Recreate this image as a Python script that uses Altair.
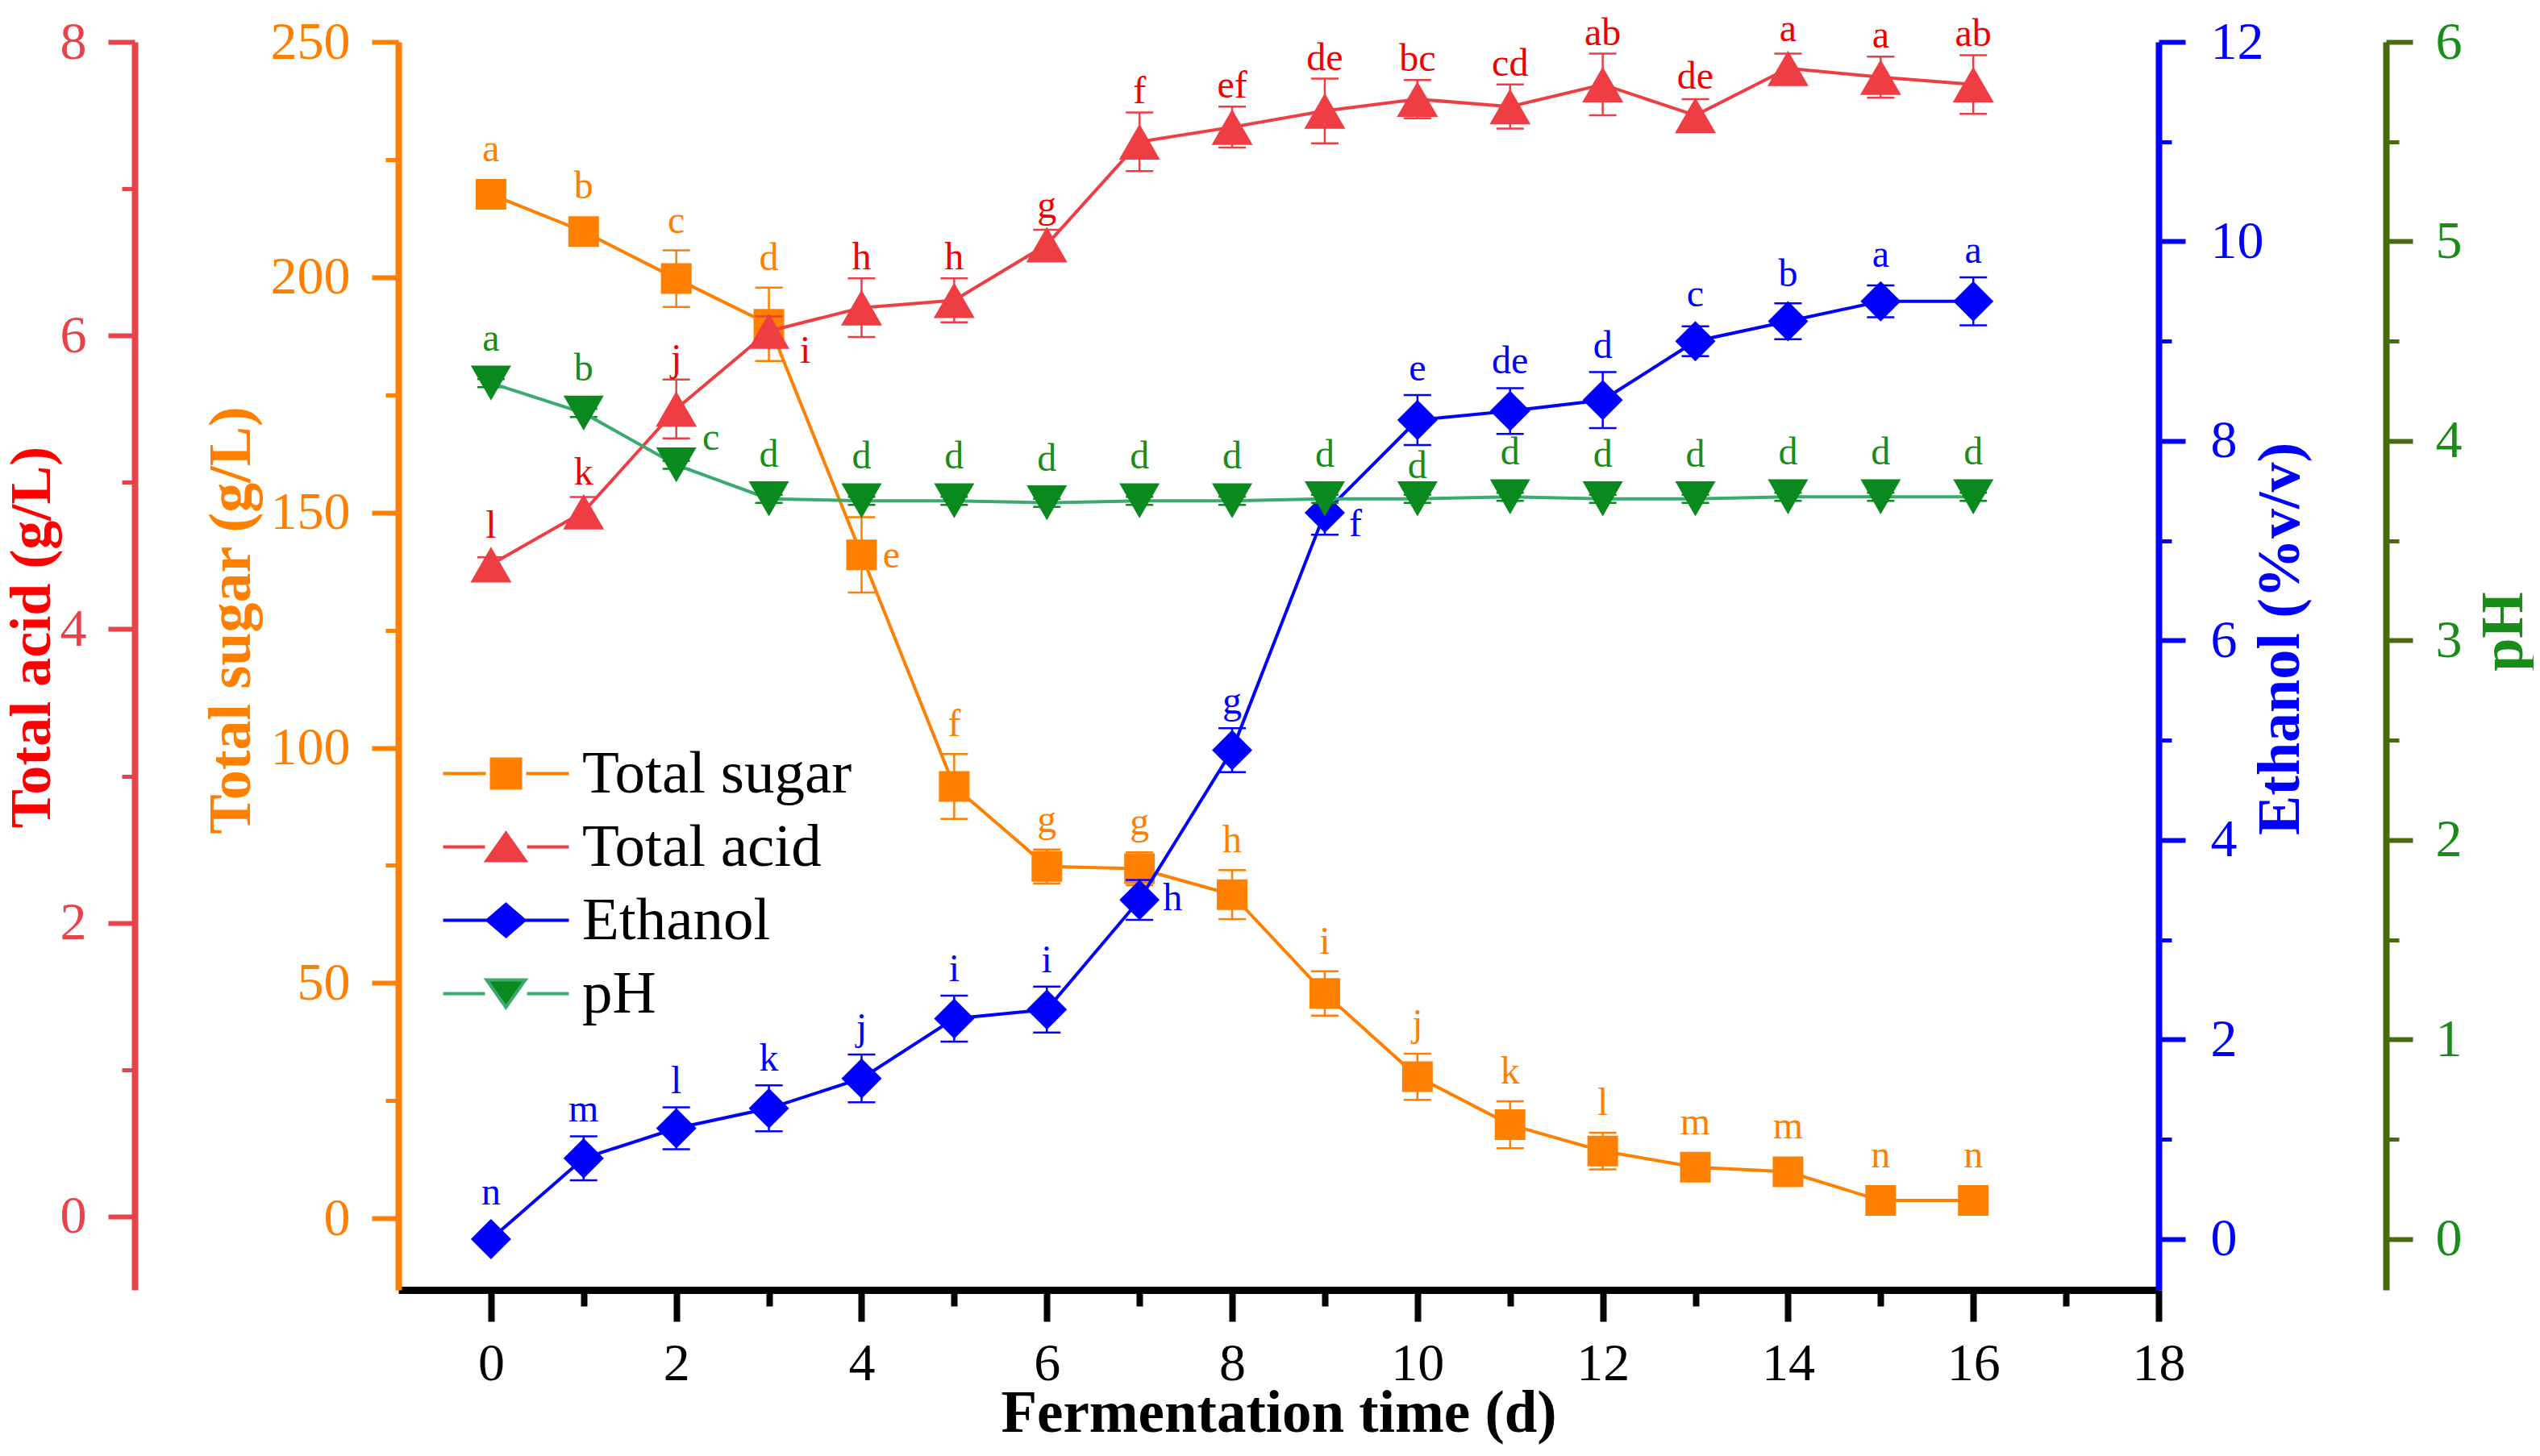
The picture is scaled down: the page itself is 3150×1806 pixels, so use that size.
import altair as alt
import pandas as pd

# ---------------- data ----------------
days = list(range(17))

sugar = [217.6, 209.7, 199.7, 190.0, 141.0, 91.8, 74.8, 74.3, 68.8, 47.8, 30.1, 19.9, 14.3, 10.9, 9.9, 3.8, 3.8]
sugar_err = [1.0, 1.0, 6.0, 7.8, 8.0, 6.9, 3.6, 3.5, 5.2, 4.7, 4.9, 5.0, 3.9, 1.0, 1.0, 0.5, 0.5]
sugar_letters = ["a", "b", "c", "d", "e", "f", "g", "g", "h", "i", "j", "k", "l", "m", "m", "n", "n"]

acid = [4.44, 4.80, 5.50, 6.03, 6.19, 6.24, 6.62, 7.32, 7.42, 7.53, 7.61, 7.56, 7.71, 7.50, 7.82, 7.76, 7.71]
acid_err = [0.05, 0.10, 0.20, 0.10, 0.20, 0.15, 0.10, 0.20, 0.14, 0.22, 0.13, 0.15, 0.21, 0.11, 0.10, 0.14, 0.20]
acid_letters = ["l", "k", "j", "i", "h", "h", "g", "f", "ef", "de", "bc", "cd", "ab", "de", "a", "a", "ab"]

ethanol = [0.0, 0.81, 1.11, 1.31, 1.61, 2.21, 2.30, 3.40, 4.90, 7.28, 8.21, 8.30, 8.41, 9.00, 9.20, 9.40, 9.40]
ethanol_err = [0.02, 0.22, 0.21, 0.23, 0.24, 0.23, 0.23, 0.20, 0.22, 0.22, 0.25, 0.23, 0.28, 0.15, 0.18, 0.16, 0.24]
ethanol_letters = ["n", "m", "l", "k", "j", "i", "i", "h", "g", "f", "e", "de", "d", "c", "b", "a", "a"]

ph = [4.29, 4.14, 3.88, 3.71, 3.70, 3.70, 3.69, 3.70, 3.70, 3.71, 3.71, 3.72, 3.71, 3.71, 3.72, 3.72, 3.72]
ph_err = [0.02] * 17
ph_letters = ["a", "b", "c"] + ["d"] * 14

series_names = ["Total sugar", "Total acid", "Ethanol", "pH"]

x_ticks_major = [0, 2, 4, 6, 8, 10, 12, 14, 16, 18]
x_ticks_minor = [1, 3, 5, 7, 9, 11, 13, 15, 17]
sugar_ticks_major = [0, 50, 100, 150, 200, 250]
sugar_ticks_minor = [25, 75, 125, 175, 225]
acid_ticks_major = [0, 2, 4, 6, 8]
acid_ticks_minor = [1, 3, 5, 7]
ethanol_ticks_major = [0, 2, 4, 6, 8, 10, 12]
ethanol_ticks_minor = [1, 3, 5, 7, 9, 11]
ph_ticks_major = [0, 1, 2, 3, 4, 5, 6]
ph_ticks_minor = [0.5, 1.5, 2.5, 3.5, 4.5, 5.5]

# ---------------- layout / style ----------------
W, H = 2183, 1548
X_DOMAIN = [-1, 18]
SUGAR_DOMAIN = [-15.2, 250]
ACID_DOMAIN = [-0.5, 8]
ETHANOL_DOMAIN = [-0.51, 12]
PH_DOMAIN = [-0.255, 6]
FONT = "Liberation Serif"
LABEL_SIZE = 48
PPX = W / (X_DOMAIN[1] - X_DOMAIN[0])

ORANGE = "#FF7F00"
RED = "#EE3E44"
RED_AXIS = "#E8424A"
RED_TEXT = "#F00000"
BLUE = "#0000FF"
GREEN_MARK = "#0A8A1E"
GREEN_LINE = "#3AAA6E"
GREEN_AXIS = "#4A6A10"
GREEN_TEXT = "#1A8C1A"


def ppu(domain):
    return H / (domain[1] - domain[0])


def frame(values, errs, letters, domain, half_px, gap, specials):
    k = ppu(domain)
    rows = []
    for d, v, e, t in zip(days, values, errs, letters):
        if d in specials:
            dx, dyc = specials[d]
            up = -(dyc + 0.22 * LABEL_SIZE)
        else:
            dx = 0
            up = max(e * k, half_px) + gap
        rows.append(dict(day=d, value=v, lo=v - e, hi=v + e, label=t,
                         lab_x=d + dx / PPX, lab_y=v + up / k))
    return pd.DataFrame(rows)


xs = alt.Scale(domain=X_DOMAIN, nice=False, zero=False)

x_major_axis = alt.Axis(
    orient="bottom", values=x_ticks_major, grid=False, tickSize=39, tickWidth=8,
    tickColor="black", domainColor="black", domainWidth=9, labelColor="black",
    labelFont=FONT, labelFontSize=66, labelPadding=20, labelFlush=False,
    title="Fermentation time (d)", titleFont=FONT, titleFontSize=73,
    titleFontWeight="bold", titleColor="black", titleY=175,
    titleBaseline="alphabetic")
x_minor_axis = alt.Axis(
    orient="bottom", values=x_ticks_minor, grid=False, tickSize=20, tickWidth=8,
    tickColor="black", domain=False, labels=False, title=None)


def y_axes(orient, offset, major, minor, color, label_color, title, title_color,
           title_x, title_y, label_pad, title_size=74):
    maj = alt.Axis(
        orient=orient, offset=offset, values=major, grid=False, tickSize=33,
        tickWidth=6, tickColor=color, domainColor=color, domainWidth=8,
        labelColor=label_color, labelFont=FONT, labelFontSize=66,
        labelPadding=label_pad, title=title, titleFont=FONT,
        titleFontSize=title_size, titleFontWeight="bold", titleColor=title_color,
        titleAngle=270, titleX=title_x, titleY=title_y, titleAlign="center",
        titleBaseline="middle")
    mnr = alt.Axis(
        orient=orient, offset=offset, values=minor, grid=False, tickSize=16,
        tickWidth=5, tickColor=color, domain=False, labels=False, title=None)
    return maj, mnr


def group(df, color, line_color, text_color, shape, size, domain, axes, with_x=False):
    ys = alt.Scale(domain=domain, nice=False, zero=False)
    maj, mnr = axes
    base = alt.Chart(df)
    xa_major = x_major_axis if with_x else None
    xa_minor = x_minor_axis if with_x else None
    err = base.mark_rule(color=color, strokeWidth=2.5).encode(
        x=alt.X("day:Q", scale=xs, axis=xa_minor),
        y=alt.Y("lo:Q", scale=ys, axis=mnr),
        y2="hi:Q")
    cap_lo = base.mark_tick(orient="horizontal", size=34, thickness=2.5,
                            color=color, opacity=1).encode(
        x=alt.X("day:Q", scale=xs, axis=None),
        y=alt.Y("lo:Q", scale=ys, axis=None))
    cap_hi = base.mark_tick(orient="horizontal", size=34, thickness=2.5,
                            color=color, opacity=1).encode(
        x=alt.X("day:Q", scale=xs, axis=None),
        y=alt.Y("hi:Q", scale=ys, axis=None))
    line = base.mark_line(color=line_color, strokeWidth=4).encode(
        x=alt.X("day:Q", scale=xs, axis=xa_major),
        y=alt.Y("value:Q", scale=ys, axis=maj))
    pts = base.mark_point(filled=True, shape=shape, size=size, color=color,
                          opacity=1).encode(
        x=alt.X("day:Q", scale=xs, axis=None),
        y=alt.Y("value:Q", scale=ys, axis=None))
    txt = base.mark_text(font=FONT, fontSize=LABEL_SIZE, color=text_color,
                         align="center", baseline="alphabetic").encode(
        x=alt.X("lab_x:Q", scale=xs, axis=None),
        y=alt.Y("lab_y:Q", scale=ys, axis=None),
        text="label:N")
    lay = alt.layer(err, cap_lo, cap_hi, line, pts, txt)
    if with_x:
        return lay.resolve_axis(x="independent", y="independent")
    return lay.resolve_axis(y="independent")


df_sugar = frame(sugar, sugar_err, sugar_letters, SUGAR_DOMAIN, 19, 22, {4: (37, 5)})
df_acid = frame(acid, acid_err, acid_letters, ACID_DOMAIN, 22.5, 11, {3: (45, 29)})
df_eth = frame(ethanol, ethanol_err, ethanol_letters, ETHANOL_DOMAIN, 25, 18,
               {7: (41, 2), 9: (38, 18)})
df_ph = frame(ph, ph_err, ph_letters, PH_DOMAIN, 22, 18, {2: (43, -29), 10: (0, -36)})

g_sugar = group(df_sugar, ORANGE, ORANGE, ORANGE, "square", 1444, SUGAR_DOMAIN,
                y_axes("left", 0, sugar_ticks_major, sugar_ticks_minor, ORANGE,
                       ORANGE, "Total sugar (g/L)", ORANGE, -207, 717, 27),
                with_x=True)
g_acid = group(df_acid, RED, RED, RED_TEXT, "triangle-up", 2600, ACID_DOMAIN,
               y_axes("left", 327, acid_ticks_major, acid_ticks_minor, RED_AXIS,
                      RED_AXIS, "Total acid (g/L)", "#FF0000", -128, 738, 27,
                      title_size=72))
g_eth = group(df_eth, BLUE, BLUE, BLUE, "diamond", 2500, ETHANOL_DOMAIN,
              y_axes("right", 0, ethanol_ticks_major, ethanol_ticks_minor, BLUE,
                     BLUE, "Ethanol (%v/v)", BLUE, 151, 740, 31))
g_ph = group(df_ph, GREEN_MARK, GREEN_LINE, GREEN_TEXT, "triangle-down", 2500,
             PH_DOMAIN,
             y_axes("right", 282, ph_ticks_major, ph_ticks_minor, GREEN_AXIS,
                    GREEN_TEXT, "pH", GREEN_TEXT, 146, 731, 28))

# legend: line + marker symbols
legend_paths = [
    "M-4.33,0H-1.39M1.39,0H4.33M-1,-1H1V1H-1Z",
    "M-4.33,0H-1.45M1.45,0H4.33M0,-0.94L1.33,0.94L-1.33,0.94Z",
    "M-4.33,0H-1.28M1.28,0H4.33M0,-1.1L1.28,0L0,1.1L-1.28,0Z",
    "M-4.33,0H-1.45M1.45,0H4.33M0,0.94L1.33,-0.94L-1.33,-0.94Z",
]
leg_def = dict(orient="none", legendX=96, legendY=870, title=None,
               labelFont=FONT, labelFontSize=75, labelColor="black",
               labelOffset=57, rowPadding=15, symbolSize=1296,
               symbolStrokeWidth=4, padding=0, labelLimit=800)
legend_df = pd.DataFrame({"series": series_names})
leg = alt.Chart(legend_df).transform_filter("false").mark_point(
    filled=True, size=1296, strokeWidth=4, opacity=1).encode(
    fill=alt.Fill("series:N", scale=alt.Scale(domain=series_names,
                  range=[ORANGE, RED, BLUE, GREEN_MARK]), legend=alt.Legend(**leg_def)),
    stroke=alt.Stroke("series:N", scale=alt.Scale(domain=series_names,
                      range=[ORANGE, RED, BLUE, GREEN_LINE]), legend=alt.Legend(**leg_def)),
    shape=alt.Shape("series:N", scale=alt.Scale(domain=series_names,
                    range=legend_paths), legend=alt.Legend(**leg_def)),
)

chart = alt.layer(g_sugar, g_acid, g_eth, g_ph, leg).resolve_scale(
    y="independent").resolve_axis(x="independent").properties(
    width=W, height=H,
    autosize=alt.AutoSizeParams(type="none"),
    padding={"left": 486, "top": 44, "right": 465, "bottom": 194},
    background="white",
).configure_view(stroke=None).configure_legend(
    symbolFillColor="black", symbolStrokeColor="black")

chart.save("out.html", embed_options={"renderer": "svg", "actions": False})
